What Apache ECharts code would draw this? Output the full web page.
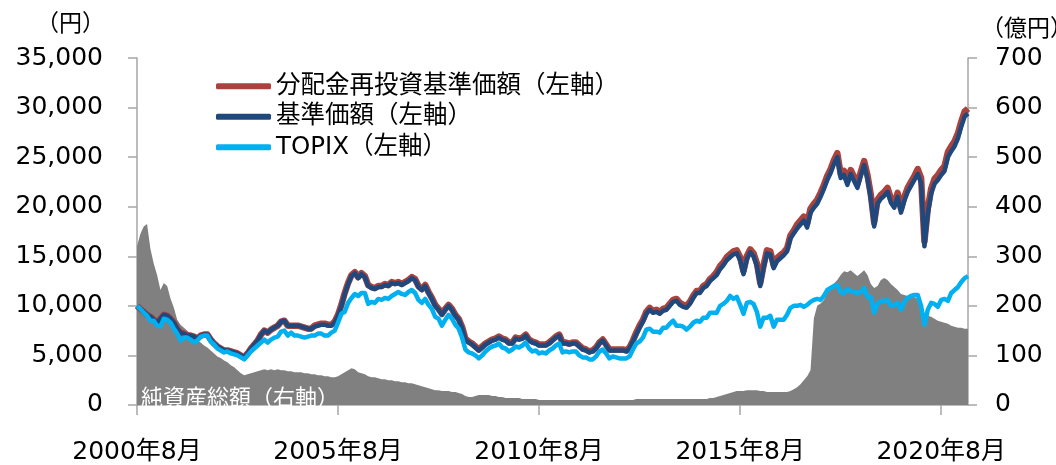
<!DOCTYPE html>
<html>
<head>
<meta charset="utf-8">
<script src="https://cdn.jsdelivr.net/npm/echarts@6/dist/echarts.min.js"></script>
<style>
html, body { margin: 0; padding: 0; background: #fff; }
#chart { width: 1056px; height: 465px; }
</style>
</head>
<body>
<div id="chart"></div>
<script>
// monthly points, 2000年8月 - 2021年4月
var startYear = 2000
var startMonth = 8

// 分配金再投資基準価額 (円)
var navReinvest = [
  10000, 9700, 9400, 9100, 8900,
  8600, 8300, 8700, 9100, 9000, 8700, 8300, 7700, 7300, 7200, 7000, 7000,
  6900, 6700, 7000, 7100, 7100, 6600, 6200, 5900, 5700, 5500, 5500, 5400,
  5300, 5200, 5000, 4800, 5200, 5700, 6100, 6500, 7100, 7500, 7300, 7600,
  7800, 8000, 8400, 8500, 8000, 8000, 8000, 8000, 7900, 7800, 7700, 7700,
  8000, 8100, 8200, 8200, 8100, 8100, 8400, 9100, 10100, 11300, 12300, 13100,
  13400, 12900, 13300, 13000, 12100, 11900, 11800, 12000, 12000, 12200, 12100, 12400,
  12300, 12400, 12200, 12400, 12600, 12900, 12700, 12000, 11700, 12100, 11400, 10800,
  10100, 9700, 9200, 9700, 10100, 9700, 9100, 8700, 7900, 6700, 6400, 6200,
  5900, 5600, 5900, 6200, 6400, 6600, 6700, 6900, 6700, 6600, 6300, 6300,
  6800, 6700, 6800, 7100, 6600, 6400, 6300, 6100, 6100, 6100, 6300, 6600,
  6900, 7100, 6300, 6300, 6200, 6300, 6300, 6000, 5700, 5600, 5400, 5500,
  5800, 6300, 6600, 6100, 5600, 5600, 5600, 5600, 5600, 5500, 5800, 6500,
  7300, 8000, 8600, 9400, 9800, 9500, 9600, 9400, 9700, 9800, 10200, 10600,
  10700, 10300, 10100, 10000, 10400, 11000, 11500, 11500, 12000, 12200, 12700, 13000,
  13400, 14000, 14400, 14900, 15200, 15500, 15600, 14900, 13500, 15000, 15700, 15300,
  14300, 12300, 14100, 15600, 15500, 14100, 14800, 15100, 15400, 15800, 17100, 17600,
  18200, 18600, 19000, 18300, 19800, 20300, 20700, 21400, 22200, 23100, 23800, 24700,
  25400, 23300, 23600, 22600, 23700, 23000, 22300, 23500, 24600, 23200, 21200, 18400,
  20700, 21200, 21500, 21900, 20800, 20300, 21400, 19800, 21000, 21900, 22500, 23100,
  23800, 22900, 16500, 19800, 21800, 22800, 23200, 23700, 24100, 25500, 26100, 26600,
  27400, 28600, 29600, 29900
]

// 基準価額 (円)
var nav = [
  10000, 9700, 9400, 9100, 8900,
  8600, 8300, 8700, 9100, 9000, 8700, 8300, 7700, 7300, 7200, 7000, 7000,
  6900, 6700, 7000, 7100, 7100, 6600, 6200, 5900, 5700, 5500, 5500, 5400,
  5300, 5200, 5000, 4800, 5200, 5700, 6100, 6500, 7100, 7500, 7300, 7600,
  7800, 8000, 8400, 8500, 8000, 8000, 8000, 8000, 7900, 7800, 7700, 7700,
  7900, 8000, 8100, 8100, 8000, 8000, 8300, 9000, 10000, 11200, 12200, 13000,
  13300, 12800, 13200, 12900, 12000, 11800, 11700, 11900, 11900, 12100, 12000, 12300,
  12200, 12300, 12100, 12300, 12500, 12800, 12600, 11900, 11600, 12000, 11300, 10700,
  10000, 9600, 9100, 9600, 10000, 9600, 9000, 8600, 7800, 6600, 6300, 6100,
  5800, 5500, 5800, 6100, 6300, 6500, 6600, 6800, 6600, 6500, 6200, 6200,
  6700, 6600, 6700, 7000, 6500, 6300, 6200, 6000, 6000, 6000, 6200, 6500,
  6800, 7000, 6200, 6200, 6100, 6200, 6200, 5900, 5600, 5500, 5300, 5400,
  5700, 6200, 6500, 6000, 5500, 5500, 5500, 5500, 5500, 5400, 5700, 6400,
  7100, 7800, 8400, 9200, 9600, 9300, 9400, 9200, 9500, 9600, 10000, 10400,
  10500, 10100, 9900, 9800, 10200, 10800, 11300, 11300, 11800, 12000, 12500, 12800,
  13100, 13700, 14100, 14600, 14900, 15200, 15300, 14600, 13200, 14700, 15400, 15000,
  14000, 12000, 13800, 15300, 15200, 13800, 14500, 14800, 15100, 15500, 16800, 17300,
  17800, 18200, 18600, 17900, 19400, 19900, 20300, 21000, 21800, 22700, 23400, 24300,
  25000, 22900, 23200, 22200, 23300, 22600, 21900, 23100, 24200, 22800, 20800, 18000,
  20300, 20800, 21100, 21500, 20400, 19900, 21000, 19400, 20600, 21500, 22100, 22700,
  23300, 22400, 16000, 19300, 21300, 22300, 22700, 23200, 23600, 25000, 25600, 26100,
  26900, 28100, 29100, 29400
]

// TOPIX (2000年8月 = 10,000)
var topix = [
  10000, 9700, 9300, 9000, 8500,
  8500, 8000, 7900, 8700, 8600, 8300, 7700, 7200, 6500, 6800, 6800, 6600,
  6300, 6500, 6900, 7000, 7000, 6400, 6100, 5700, 5500, 5300, 5400, 5200,
  5100, 5000, 4800, 4600, 5000, 5400, 5700, 6000, 6300, 6600, 6300, 6600,
  6800, 6900, 7400, 7500, 7000, 7300, 7000, 7000, 6900, 6800, 6900, 7000,
  7000, 7200, 7200, 7000, 7000, 7300, 7500, 8300, 9200, 9400, 10300, 10800,
  11200, 11000, 11300, 11300, 10200, 10400, 10300, 10700, 10600, 10800, 10700, 11000,
  11200, 11400, 11200, 11100, 11400, 11600, 11300, 10600, 10300, 10700, 10100, 9700,
  8900, 8700, 8000, 8600, 9100, 8700, 8100, 7700, 6800, 5600, 5300, 5200,
  5000, 4700, 5000, 5400, 5700, 5900, 6000, 6200, 5800, 5700, 5400, 5600,
  5900, 5800, 6000, 6300, 5700, 5400, 5500, 5200, 5300, 5200, 5500, 5700,
  6000, 6200, 5300, 5400, 5300, 5400, 5400, 5000, 4800, 4800, 4600, 4600,
  4900, 5400, 5600, 5200, 4700, 4900, 4800, 4700, 4700, 4700, 4900, 5600,
  6200, 6400, 6800, 7600, 7700, 7400, 7400, 7300, 7800, 7800, 8200, 8500,
  8000, 8000, 7900, 7600, 7900, 8300, 8500, 8400, 8800, 8800, 9300, 9300,
  9300, 10000, 10200, 10500, 11000, 10700, 10900, 10100, 9200, 10300, 10400, 10200,
  9400, 7900, 8800, 8800, 9000, 7900, 8600, 8600, 8600, 9100, 9800, 10000,
  10000, 10100, 9900, 10100, 10400, 10600, 10700, 10600, 11000, 11600, 11800, 12000,
  12100, 11400, 11300, 11700, 11500, 11400, 11300, 11400, 11800, 10900, 10900, 9300,
  10200, 10500, 10500, 10600, 10000, 10100, 10300, 9600, 10400, 10800, 11000, 11100,
  11100, 10000, 8100, 9600, 10300, 10200, 9900, 10600, 10700, 10500, 11300, 11600,
  11900, 12400, 12800, 13000
]

// 純資産総額 (億円)
var netAssets = [
  320, 345, 360, 365, 315,
  285, 262, 232, 246, 240, 215, 196, 172, 162, 156, 150, 144,
  138, 130, 126, 120, 116, 110, 104, 98, 95, 90, 86, 80,
  76, 70, 64, 60, 62, 64, 66, 68, 70, 72, 70, 72,
  70, 72, 70, 70, 68, 68, 66, 66, 66, 64, 64, 62,
  62, 60, 60, 58, 58, 56, 56, 58, 62, 66, 70, 74,
  72, 66, 64, 62, 58, 56, 56, 54, 52, 52, 50, 50,
  48, 48, 46, 46, 44, 44, 42, 40, 38, 36, 34, 32,
  30, 30, 28, 28, 28, 26, 26, 24, 22, 18, 16, 16,
  18, 20, 20, 20, 20, 18, 18, 16, 16, 14, 14, 14,
  14, 14, 12, 12, 12, 12, 12, 10, 10, 10, 10, 10,
  10, 10, 10, 10, 10, 10, 10, 10, 10, 10, 10, 10,
  10, 10, 10, 10, 10, 10, 10, 10, 10, 10, 10, 10,
  12, 12, 12, 12, 12, 12, 12, 12, 12, 12, 12, 12,
  12, 12, 12, 12, 12, 12, 12, 12, 12, 12, 14, 14,
  16, 18, 20, 22, 24, 26, 28, 28, 28, 30, 30, 30,
  30, 28, 28, 26, 26, 26, 26, 26, 26, 26, 28, 32,
  36, 42, 50, 58, 70, 175, 200, 205, 212, 225, 236, 245,
  252, 262, 270, 268, 272, 266, 260, 266, 272, 262, 244, 236,
  240, 252, 256, 252, 244, 238, 232, 224, 222, 220, 220, 218,
  214, 208, 184, 180, 178, 174, 170, 168, 166, 164, 160, 158,
  156, 156, 154, 154
]

var months = []
for (var k = 0; k < nav.length; k++) {
  var m = startMonth - 1 + k
  months.push((startYear + Math.floor(m / 12)) + '年' + (m % 12 + 1) + '月')
}

// label every 5 years
function everyFive(index) { return index % 60 === 0 }

var font = "'DejaVu Sans', 'Noto Sans CJK JP', sans-serif"
var axisColor = '#a6a6a6'

var chart = echarts.init(document.getElementById('chart'))

var option = {
  animation: false,
  backgroundColor: '#fff',
  grid: { left: 137, right: 88, top: 58, bottom: 57 },
  legend: {
    data: ['分配金再投資基準価額（左軸）', '基準価額（左軸）', 'TOPIX（左軸）'],
    orient: 'vertical',
    left: 211,
    top: 69,
    icon: 'roundRect',
    itemWidth: 55,
    itemHeight: 6,
    itemGap: 6,
    textStyle: { fontSize: 24.5, lineHeight: 24, color: '#000', fontFamily: font }
  },
  xAxis: {
    type: 'category',
    data: months,
    boundaryGap: false,
    axisLine: { lineStyle: { color: axisColor, width: 1.5 } },
    axisTick: { interval: everyFive, length: 10, lineStyle: { color: axisColor, width: 1.5 } },
    axisLabel: { interval: everyFive, fontSize: 25, color: '#000', margin: 35, fontFamily: font },
    splitLine: { show: false }
  },
  yAxis: [{
    type: 'value',
    min: 0,
    max: 35000,
    interval: 5000,
    axisLine: { show: true, lineStyle: { color: axisColor, width: 1.5 } },
    axisTick: { show: true, length: 9, lineStyle: { color: axisColor, width: 1.5 } },
    axisLabel: {
      fontSize: 25, color: '#000', margin: 34, fontFamily: font,
      formatter: function (v) { return v.toLocaleString('en-US') }
    },
    splitLine: { show: false }
  }, {
    type: 'value',
    position: 'right',
    min: 0,
    max: 700,
    interval: 100,
    axisLine: { show: true, lineStyle: { color: axisColor, width: 1.5 } },
    axisTick: { show: true, length: 9, lineStyle: { color: axisColor, width: 1.5 } },
    axisLabel: { fontSize: 25, color: '#000', margin: 27, fontFamily: font },
    splitLine: { show: false }
  }],
  graphic: [
    { type: 'text', left: 36, top: 11, style: { text: '（円）', fill: '#000', font: "23px 'Noto Sans CJK JP'" } },
    { type: 'text', left: 981, top: 16, style: { text: '（億円）', fill: '#000', font: "23px 'Noto Sans CJK JP'" } },
    { type: 'text', left: 141, top: 386, z: 100, style: { text: '純資産総額（右軸）', fill: '#fff', font: "22px 'Noto Sans CJK JP'" } }
  ],
  series: [{
    name: '純資産総額（右軸）',
    type: 'line',
    yAxisIndex: 1,
    data: netAssets,
    symbol: 'none',
    lineStyle: { width: 0 },
    itemStyle: { color: '#808080' },
    areaStyle: { color: '#808080', opacity: 1 },
    z: 1
  }, {
    name: '分配金再投資基準価額（左軸）',
    type: 'line',
    data: navReinvest,
    symbol: 'none',
    itemStyle: { color: '#aa433e' },
    lineStyle: { color: '#aa433e', width: 6.5, join: 'round' },
    z: 2
  }, {
    name: '基準価額（左軸）',
    type: 'line',
    data: nav,
    symbol: 'none',
    itemStyle: { color: '#1f497d' },
    lineStyle: { color: '#1f497d', width: 4.5, join: 'round' },
    z: 3
  }, {
    name: 'TOPIX（左軸）',
    type: 'line',
    data: topix,
    symbol: 'none',
    itemStyle: { color: '#00b0f0' },
    lineStyle: { color: '#00b0f0', width: 4.5, join: 'round' },
    z: 4
  }]
}

chart.setOption(option)
</script>
</body>
</html>
